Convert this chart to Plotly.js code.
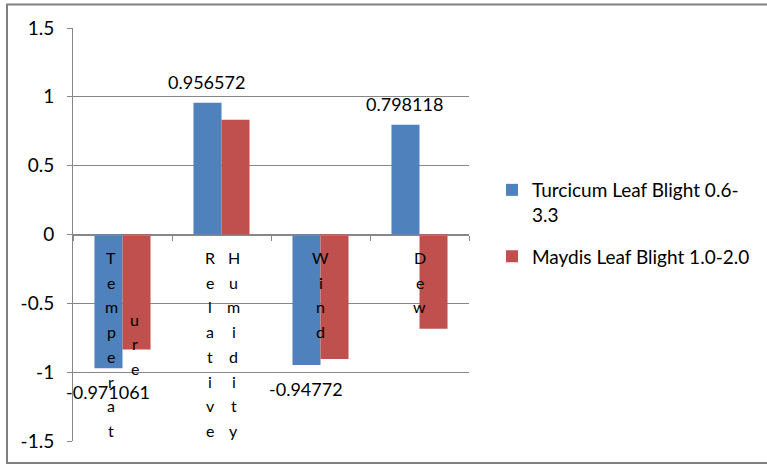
<!DOCTYPE html>
<html>
<head>
<meta charset="utf-8">
<script src="https://cdn.plot.ly/plotly-3.0.1.min.js"></script>
<style>
  html, body { margin: 0; padding: 0; background: #ffffff; }
  #chart { width: 767px; height: 465px; }
</style>
</head>
<body>
<div id="chart"></div>
<script>
// ---- data ----
const categories = ['Temperature', 'Relative Humidity', 'Wind', 'Dew'];
const turcicumValues = [-0.971061, 0.956572, -0.94772, 0.798118];
const maydisValues = [-0.835, 0.834, -0.905, -0.685];
const turcicumLabels = ['-0.971061', '0.956572', '-0.94772', '0.798118'];
const seriesNames = ['Turcicum Leaf Blight 0.6-<br>3.3', 'Maydis Leaf Blight 1.0-2.0'];
// category tick labels as they wrap (stacked letters, in columns)
const categoryLabelColumns = [['Temperat', 'ure'], ['Relative', 'Humidity'], ['Wind'], ['Dew']];
const yTickValues = [-1.5, -1, -0.5, 0, 0.5, 1, 1.5];
const yTickLabels = ['-1.5', '-1', '-0.5', '0', '0.5', '1', '1.5'];

// ---- style ----
const FONT = 'Lato, Carlito, Calibri, "Open Sans", sans-serif';
const BLUE = '#4F81BD';
const RED = '#C0504D';
const GRID = '#878787';

const M = { l: 73, r: 298, t: 28, b: 24 };
const W = 767, H = 465;
const plotW = W - M.l - M.r, plotH = H - M.t - M.b;
const px2x = p => (p - M.l) / plotW;
const px2y = p => (H - M.b - p) / plotH;

const traces = [
  {
    type: 'bar', name: seriesNames[0], x: categories, y: turcicumValues,
    legendgroup: 'g1',
    marker: { color: BLUE }, hoverinfo: 'skip'
  },
  {
    type: 'bar', name: seriesNames[1], x: categories, y: maydisValues,
    legendgroup: 'g2',
    marker: { color: RED }, hoverinfo: 'skip'
  }
];

const annotations = [];
// data labels for the first series
turcicumValues.forEach((v, i) => {
  annotations.push({
    x: categories[i], y: v, xref: 'x', yref: 'y',
    xshift: -15, yshift: v >= 0 ? 21 : -24,
    text: turcicumLabels[i], showarrow: false,
    xanchor: 'center', yanchor: 'middle',
    font: { family: FONT, size: 18, color: '#000000' }
  });
});
// stacked category labels
const LINE = 24.7;
categoryLabelColumns.forEach((cols, i) => {
  const maxLen = Math.max(...cols.map(c => c.length));
  const xs = cols.length > 1 ? [-11.5, 12] : [0];
  cols.forEach((col, j) => {
    const start = cols.length > 1 ? (maxLen - col.length) / 2 : 0;
    col.split('').forEach((ch, k) => {
      annotations.push({
        x: categories[i], y: 0, xref: 'x', yref: 'y',
        xshift: xs[j], yshift: -(23 + (start + k) * LINE),
        text: ch, showarrow: false,
        xanchor: 'center', yanchor: 'middle',
        font: { family: FONT, size: 16, color: '#000000' }
      });
    });
  });
});

const layout = {
  width: W, height: H,
  margin: M,
  paper_bgcolor: '#ffffff', plot_bgcolor: '#ffffff',
  font: { family: FONT, size: 16, color: '#000000' },
  barmode: 'group', bargap: 0.434, bargroupgap: 0,
  showlegend: true,
  legend: {
    x: px2x(492), y: px2y(171), xanchor: 'left', yanchor: 'top',
    valign: 'top', traceorder: 'grouped', tracegroupgap: 14,
    font: { family: FONT, size: 19, color: '#000000' },
    bgcolor: 'rgba(0,0,0,0)'
  },
  xaxis: {
    type: 'category', range: [-0.5, 3.5],
    anchor: 'free', position: 0.5,
    showgrid: false, zeroline: false,
    showline: true, linecolor: GRID, linewidth: 1,
    ticks: 'outside', tickson: 'boundaries', ticklen: 5, tickcolor: GRID,
    showticklabels: false, fixedrange: true
  },
  yaxis: {
    range: [-1.5, 1.5], tickvals: yTickValues, ticktext: yTickLabels,
    showgrid: true, gridcolor: GRID, gridwidth: 1,
    zeroline: true, zerolinecolor: GRID, zerolinewidth: 1,
    showline: true, linecolor: GRID, linewidth: 1,
    ticks: 'outside', ticklen: 5, tickcolor: GRID,
    ticklabelstandoff: 9,
    tickfont: { family: FONT, size: 19, color: '#000000' },
    fixedrange: true
  },
  annotations: annotations,
  shapes: [
    {
      type: 'rect', xref: 'paper', yref: 'paper',
      x0: px2x(7), x1: px2x(790), y0: px2y(463), y1: px2y(4.5),
      line: { color: '#808080', width: 2 }, fillcolor: 'rgba(0,0,0,0)', layer: 'below'
    }
  ]
};

Plotly.newPlot('chart', traces, layout, { displayModeBar: false, staticPlot: true });
</script>
</body>
</html>
